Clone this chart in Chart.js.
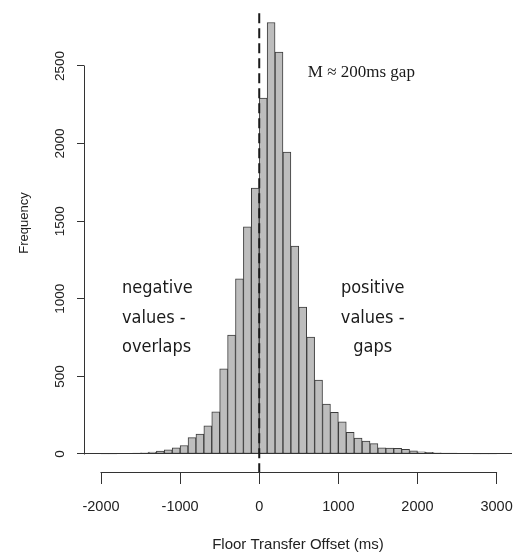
<!DOCTYPE html>
<html>
<head>
<meta charset="utf-8">
<script src="https://cdn.jsdelivr.net/npm/chart.js@4.4.1/dist/chart.umd.min.js"></script>
<style>
  html, body { margin: 0; padding: 0; background: #fff; }
</style>
</head>
<body>
<canvas id="histChart" width="528" height="560"></canvas>
<script>
// histogram of floor transfer offsets, 100 ms bins (left edge of each bin)
var binStarts = [-2000, -1900, -1800, -1700, -1600, -1500, -1400, -1300, -1200, -1100,
                 -1000, -900, -800, -700, -600, -500, -400, -300, -200, -100,
                 0, 100, 200, 300, 400, 500, 600, 700, 800, 900,
                 1000, 1100, 1200, 1300, 1400, 1500, 1600, 1700, 1800, 1900,
                 2000, 2100, 2200, 2300, 2400, 2500, 2600, 2700, 2800, 2900];
var counts = [1, 1, 2, 3, 6, 8, 12, 18, 27, 40,
              55, 105, 128, 182, 272, 548, 767, 1128, 1463, 1714,
              2294, 2780, 2590, 1946, 1340, 947, 754, 477, 322, 268,
              208, 139, 103, 84, 67, 40, 38, 36, 30, 21,
              14, 10, 8, 6, 6, 4, 2, 1, 1, 1];
var binWidth = 100;

var xTicks = [-2000, -1000, 0, 1000, 2000, 3000];
var yTicks = [0, 500, 1000, 1500, 2000, 2500];

// notes placed in data units
var meanNote = 'M \u2248 200ms gap';
var leftNote = ['negative', 'values -', 'overlaps'];
var rightNote = ['positive', 'values -', 'gaps'];
var noteRows = [1037, 844, 657];

var histData = [];
for (var i = 0; i < binStarts.length; i++) {
    histData.push({ x: binStarts[i] + binWidth / 2, y: counts[i] });
}

function strokeLine(ctx, x1, y1, x2, y2) {
    ctx.beginPath();
    ctx.moveTo(x1, y1);
    ctx.lineTo(x2, y2);
    ctx.stroke();
}

// R-style extras: zero line, axis lines, dashed mean line, labels, notes
var histExtras = {
    id: 'histExtras',
    afterDatasetsDraw: function(chart) {
        var ctx = chart.ctx;
        var xs = chart.scales.x;
        var ys = chart.scales.y;
        var area = chart.chartArea;
        ctx.save();

        ctx.strokeStyle = '#333';
        ctx.lineWidth = 1;
        var y0 = Math.round(ys.getPixelForValue(0) - 0.5) + 0.5;
        strokeLine(ctx, area.left, y0, area.right, y0);

        var xa = Math.round(area.left - 0.5) + 0.5;
        strokeLine(ctx, xa, ys.getPixelForValue(yTicks[0]) + 0.5, xa, ys.getPixelForValue(yTicks[yTicks.length - 1]) - 0.5);
        var ya = Math.round(area.bottom - 0.5) + 0.5;
        strokeLine(ctx, xs.getPixelForValue(xTicks[0]) - 0.5, ya, xs.getPixelForValue(xTicks[xTicks.length - 1]) + 0.5, ya);

        // dashed line at zero offset
        ctx.setLineDash([10, 5]);
        ctx.lineWidth = 2;
        ctx.strokeStyle = '#1a1a1a';
        var xz = xs.getPixelForValue(0);
        strokeLine(ctx, xz, ys.getPixelForValue(2840), xz, area.bottom);
        ctx.setLineDash([]);

        // y tick labels, rotated like R
        ctx.fillStyle = '#222';
        ctx.font = '13.5px "Liberation Sans", Arial, sans-serif';
        ctx.textAlign = 'center';
        ctx.textBaseline = 'middle';
        yTicks.forEach(function(v) {
            ctx.save();
            ctx.translate(60, ys.getPixelForValue(v));
            ctx.rotate(-Math.PI / 2);
            ctx.fillText(String(v), 0, 0);
            ctx.restore();
        });
        ctx.save();
        ctx.translate(24, 223);
        ctx.rotate(-Math.PI / 2);
        ctx.font = '13px "Liberation Sans", Arial, sans-serif';
        ctx.fillText('Frequency', 0, 0);
        ctx.restore();

        // notes
        ctx.fillStyle = '#1a1a1a';
        ctx.textBaseline = 'alphabetic';
        ctx.font = '17px "Liberation Serif", "DejaVu Serif", serif';
        ctx.textAlign = 'left';
        ctx.fillText(meanNote, xs.getPixelForValue(614), ys.getPixelForValue(2429));

        ctx.font = '18px "DejaVu Sans Condensed", "DejaVu Sans", sans-serif';
        for (var k = 0; k < leftNote.length; k++) {
            ctx.textAlign = 'left';
            ctx.fillText(leftNote[k], xs.getPixelForValue(-1735), ys.getPixelForValue(noteRows[k]));
            ctx.textAlign = 'center';
            ctx.fillText(rightNote[k], xs.getPixelForValue(1434), ys.getPixelForValue(noteRows[k]));
        }
        ctx.restore();
    }
};

var ctx = document.getElementById('histChart').getContext('2d');
var histChart = new Chart(ctx, {
    type: 'bar',
    data: {
        datasets: [{
            data: histData,
            backgroundColor: '#bdbdbd',
            borderColor: '#3c3c3c',
            borderWidth: 1,
            borderSkipped: false,
            barPercentage: 1,
            categoryPercentage: 1
        }]
    },
    options: {
        responsive: false,
        animation: false,
        layout: { padding: { top: 5, right: 16, left: 0, bottom: 0 } },
        plugins: {
            legend: { display: false },
            tooltip: { enabled: false }
        },
        scales: {
            x: {
                type: 'linear',
                offset: false,
                min: -2215,
                max: 3195,
                afterFit: function(s) { s.height = 88; },
                afterBuildTicks: function(s) {
                    s.ticks = xTicks.map(function(v) { return { value: v }; });
                },
                grid: { offset: false, drawOnChartArea: false, drawTicks: true, tickLength: 12, color: '#333' },
                border: { display: false },
                ticks: {
                    color: '#222',
                    padding: 14,
                    maxRotation: 0,
                    font: { family: '"Liberation Sans", Arial, sans-serif', size: 14.5 },
                    callback: function(v) { return String(v); }
                },
                title: {
                    display: true,
                    text: 'Floor Transfer Offset (ms)',
                    color: '#222',
                    padding: { top: 0, bottom: 6 },
                    font: { family: '"Liberation Sans", Arial, sans-serif', size: 15 }
                }
            },
            y: {
                min: -116,
                max: 2893,
                afterFit: function(s) { s.width = 84; },
                afterBuildTicks: function(s) {
                    s.ticks = yTicks.map(function(v) { return { value: v }; });
                },
                grid: { drawOnChartArea: false, drawTicks: true, tickLength: 7, color: '#333' },
                border: { display: false },
                ticks: { display: false }
            }
        }
    },
    plugins: [histExtras]
});
</script>
</body>
</html>
